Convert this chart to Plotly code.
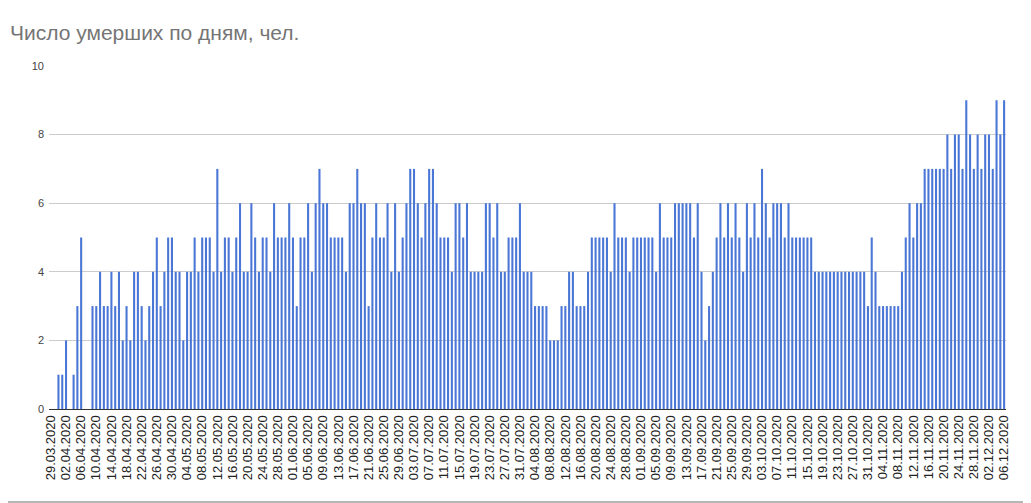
import pandas as pd
import plotly.graph_objects as go

# Daily dates 29.03.2020 .. 06.12.2020 (categories)
dates = [d.strftime("%d.%m.%Y") for d in pd.date_range("2020-03-29", "2020-12-06", freq="D")]

deaths = [
    0, 0, 1, 1, 2, 0, 1, 3, 5, 0, 0, 3, 3, 4, 3, 3, 4, 3, 4, 2,   # 29.03-17.04
    3, 2, 4, 4, 3, 2, 3, 4, 5, 3, 4, 5, 5, 4, 4, 2, 4, 4, 5, 4,   # 18.04-07.05
    5, 5, 5, 4, 7, 4, 5, 5, 4, 5, 6, 4, 4, 6, 5, 4, 5, 5, 4, 6,   # 08.05-27.05
    5, 5, 5, 6, 5, 3, 5, 5, 6, 4, 6, 7, 6, 6, 5, 5, 5, 5, 4, 6,   # 28.05-16.06
    6, 7, 6, 6, 3, 5, 6, 5, 5, 6, 4, 6, 4, 5, 6, 7, 7, 6, 5, 6,   # 17.06-06.07
    7, 7, 6, 5, 5, 5, 4, 6, 6, 5, 6, 4, 4, 4, 4, 6, 6, 5, 6, 4,   # 07.07-26.07
    4, 5, 5, 5, 6, 4, 4, 4, 3, 3, 3, 3, 2, 2, 2, 3, 3, 4, 4, 3,   # 27.07-15.08
    3, 3, 4, 5, 5, 5, 5, 5, 4, 6, 5, 5, 5, 4, 5, 5, 5, 5, 5, 5,   # 16.08-04.09
    4, 6, 5, 5, 5, 6, 6, 6, 6, 6, 5, 6, 4, 2, 3, 4, 5, 6, 5, 6,   # 05.09-24.09
    5, 6, 5, 4, 6, 5, 6, 5, 7, 6, 5, 6, 6, 6, 5, 6, 5, 5, 5, 5,   # 25.09-14.10
    5, 5, 4, 4, 4, 4, 4, 4, 4, 4, 4, 4, 4, 4, 4, 4, 3, 5, 4, 3,   # 15.10-03.11
    3, 3, 3, 3, 3, 4, 5, 6, 5, 6, 6, 7, 7, 7, 7, 7, 7, 8, 7, 8,   # 04.11-23.11
    8, 7, 9, 8, 7, 8, 7, 8, 8, 7, 9, 8, 9,                         # 24.11-06.12
]

tick_labels = dates[::4]

W, H = 1023, 495          # page body has an 8px margin
L, R, T, B = 41, 25, 58, 94
PW, PH = W - L - R, H - T - B

fig = go.Figure(
    go.Bar(
        x=dates,
        y=deaths,
        marker=dict(color="#4a76d6", line=dict(width=0)),
        hoverinfo="x+y",
    )
)

fig.update_layout(
    width=W,
    height=H,
    margin=dict(l=L, r=R, t=T, b=B, autoexpand=False),
    paper_bgcolor="white",
    plot_bgcolor="white",
    bargap=0.45,
    showlegend=False,
    font=dict(family="Liberation Sans, Arial, sans-serif", color="#444444"),
    title=dict(
        text="Число умерших по дням, чел.",
        x=2 / W,
        xanchor="left",
        xref="container",
        y=1 - 25 / H,
        yanchor="middle",
        yref="container",
        font=dict(family="Liberation Sans, Arial, sans-serif", size=21, color="#757575"),
    ),
    xaxis=dict(
        type="category",
        tickmode="array",
        tickvals=tick_labels,
        ticktext=tick_labels,
        tickangle=-90,
        tickfont=dict(size=13, color="#222222"),
        showgrid=False,
        showline=True,
        linecolor="#333333",
        linewidth=1,
        ticks="",
        range=[-0.5, len(dates) - 0.5],
    ),
    yaxis=dict(
        range=[0, 10],
        tickvals=[0, 2, 4, 6, 8, 10],
        tickfont=dict(size=11, color="#444444"),
        ticklabelstandoff=4,
        gridcolor="#cccccc",
        gridwidth=1,
        zeroline=False,
        ticks="",
    ),
    shapes=[
        dict(
            type="line",
            xref="paper",
            yref="paper",
            x0=-L / PW,
            x1=1 + R / PW,
            y0=-(B - 1) / PH,
            y1=-(B - 1) / PH,
            line=dict(color="#9e9e9e", width=1.5),
        )
    ],
)

fig.write_html("out.html")
